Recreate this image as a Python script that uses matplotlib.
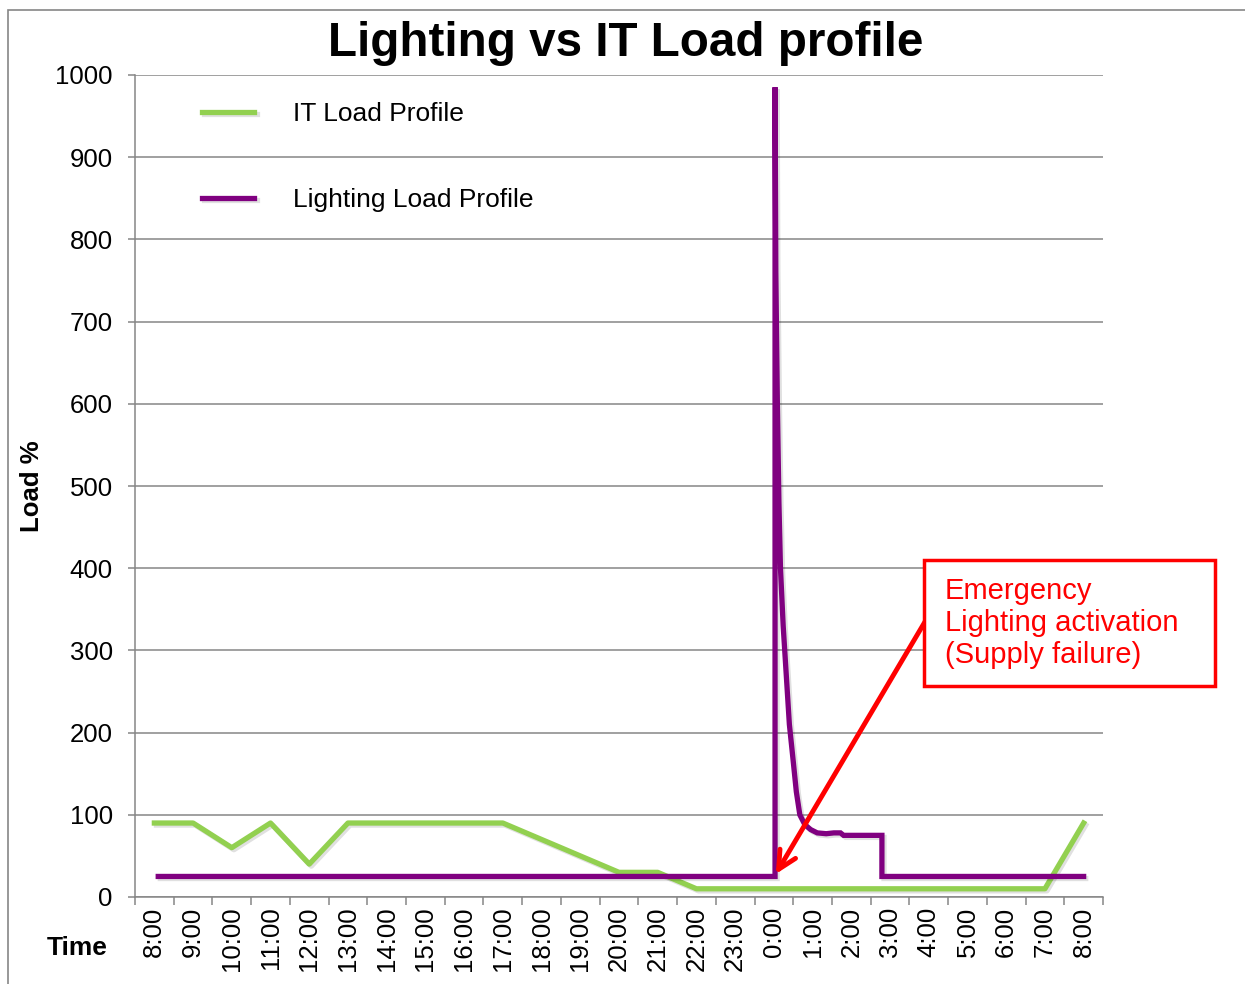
import matplotlib
matplotlib.use("Agg")
import matplotlib.pyplot as plt
import matplotlib.patheffects as pe
from matplotlib.patches import Rectangle
import numpy as np

plt.rcParams['font.family'] = ['Liberation Sans', 'DejaVu Sans']

# ---------------- data ----------------
hour_labels = ["8:00", "9:00", "10:00", "11:00", "12:00", "13:00", "14:00", "15:00",
               "16:00", "17:00", "18:00", "19:00", "20:00", "21:00", "22:00", "23:00",
               "0:00", "1:00", "2:00", "3:00", "4:00", "5:00", "6:00", "7:00", "8:00"]

it_load = [90, 90, 60, 90, 40, 90, 90, 90, 90, 90, 70, 50, 30,
           30, 10, 10, 10, 10, 10, 10, 10, 10, 10, 10, 90]

# lighting profile (hours after first 8:00, load %)
light_hours = [0.1, 16.03, 16.03, 16.05, 16.09, 16.13, 16.17, 16.24, 16.32, 16.4,
               16.5, 16.58, 16.67, 16.8, 16.95, 17.12, 17.35, 17.55, 17.72, 17.8,
               17.96, 18.79, 18.79, 24.0]
light_load = [25, 25, 985, 760, 600, 480, 400, 330, 270, 210,
              165, 128, 100, 88, 82, 78, 77, 78, 78, 75,
              75, 75, 25, 25]

green = "#92D050"
purple = "#800080"
grey = "#868686"

W, H = 1245, 984
fig = plt.figure(figsize=(W / 100, H / 100), dpi=100)
ax = fig.add_axes([135 / W, 1 - 897 / H, (1103 - 135) / W, (897 - 75) / H])

shadow = [pe.SimpleLineShadow(offset=(1.5, -1.5), alpha=0.12), pe.Normal()]

x = np.arange(len(hour_labels))
ax.plot(x, it_load, color=green, lw=3.8, label="IT Load Profile",
        solid_joinstyle="round", path_effects=shadow)
ax.plot(light_hours, light_load, color=purple, lw=3.8, label="Lighting Load Profile",
        solid_joinstyle="miter", path_effects=shadow)

ax.set_xlim(-0.5, len(hour_labels) - 0.5)
ax.set_ylim(0, 1000)
ax.set_yticks(np.arange(0, 1001, 100))
ax.yaxis.grid(True, color=grey, lw=1.1)
ax.set_axisbelow(True)

ax.set_xticks(np.arange(-0.5, len(hour_labels), 1.0))
ax.set_xticklabels([])
ax.set_xticks(x, minor=True)
ax.set_xticklabels(hour_labels, minor=True, rotation=90, fontsize=18.5)
ax.tick_params(axis="x", which="major", length=6, color=grey, width=1.1)
ax.tick_params(axis="x", which="minor", length=0, pad=7)
ax.tick_params(axis="y", length=5, color=grey, width=1.1, labelsize=18.5, pad=11)

for s in ["top", "right"]:
    ax.spines[s].set_visible(False)
for s in ["left", "bottom"]:
    ax.spines[s].set_color(grey)
    ax.spines[s].set_linewidth(1.1)

leg = ax.legend(loc="upper left", bbox_to_anchor=(0.058, 0.98), frameon=False,
                fontsize=19, handlelength=2.0, handletextpad=1.45, labelspacing=2.35,
                borderaxespad=0)

fig.text(626 / W, 1 - 43 / H, "Lighting vs IT Load profile", fontsize=34.3,
         fontweight="bold", ha="center", va="center")
fig.text(32 / W, 1 - 486 / H, "Load %", fontsize=18.5, fontweight="bold",
         rotation=90, ha="center", va="center")
fig.text(77 / W, 1 - 948 / H, "Time", fontsize=19, fontweight="bold",
         ha="center", va="center")

# annotation box and arrow
fig.patches.append(Rectangle((924 / W, 1 - 686 / H), (1215 - 924) / W, (686 - 560) / H,
                             transform=fig.transFigure, facecolor="white",
                             edgecolor="red", lw=2.5, zorder=5))
fig.text(945 / W, 1 - 623 / H, "Emergency\nLighting activation\n(Supply failure)",
         color="red", fontsize=21, ha="left", va="center", linespacing=1.17, zorder=6)
ax.annotate("", xy=(16.05, 28), xycoords="data",
            xytext=(926 / W, 1 - 620 / H), textcoords="figure fraction",
            arrowprops=dict(arrowstyle="->,head_length=1.3,head_width=0.65",
                            color="red", lw=3.5, shrinkA=0, shrinkB=0), zorder=7)

# outer chart border
fig.patches.append(Rectangle((8 / W, -0.02), 1.1, 1 - 10 / H + 0.02,
                             transform=fig.transFigure, fill=False,
                             edgecolor=grey, lw=1.2))

fig.savefig("out.png", dpi=100)
